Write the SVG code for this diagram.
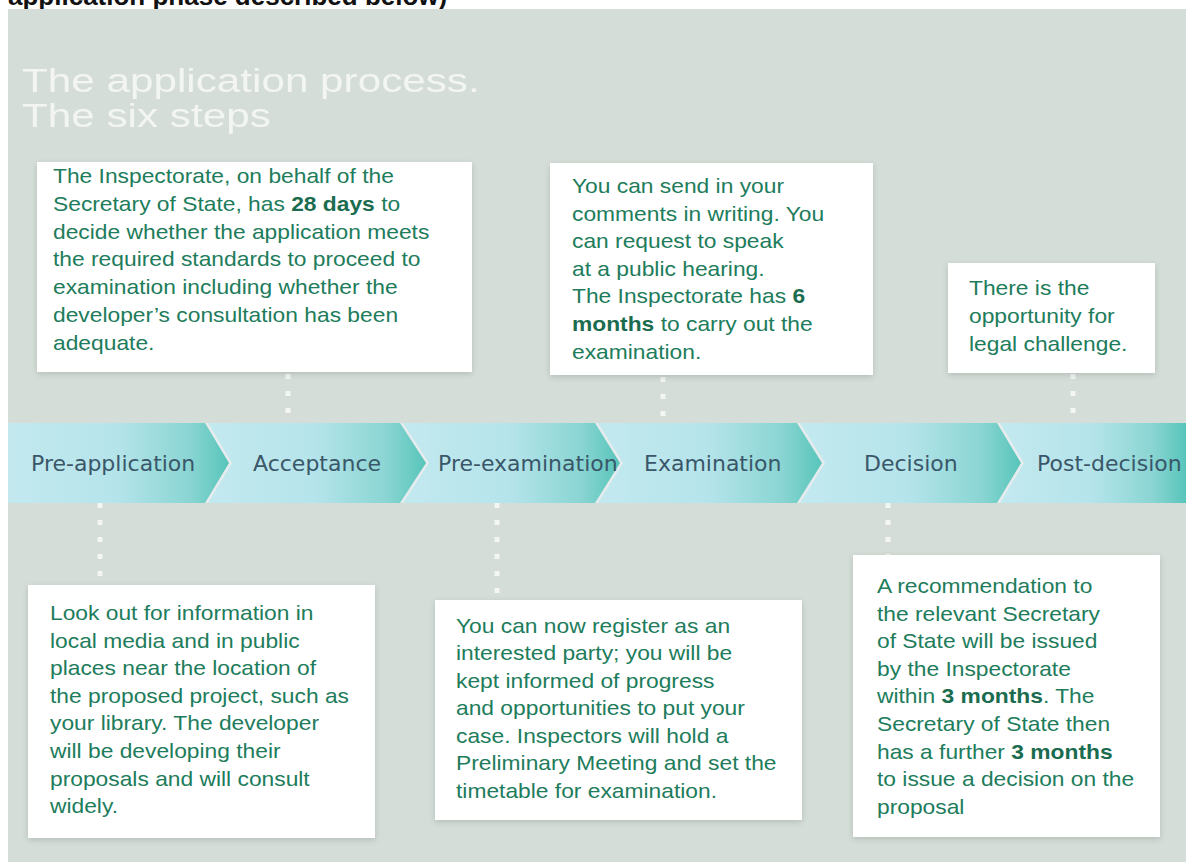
<svg xmlns="http://www.w3.org/2000/svg" width="1186" height="862" viewBox="0 0 1186 862">
<style>
.bg{fill:#d4ddd7}
.box{fill:#ffffff;filter:url(#sh)}
.body{font-family:"Liberation Sans",Arial,sans-serif;font-size:20px;fill:#207c5b}
.body tspan.b{font-weight:bold;fill:#1b6c4f}
.title{font-family:"Liberation Sans",Arial,sans-serif;font-size:33px;fill:#f6f8f6;opacity:0.92}
.lbl{font-family:"DejaVu Sans",Verdana,sans-serif;font-size:22px;fill:#3a5769}
.chev{fill:url(#cg)}
.dots{stroke:#f6f8f6;stroke-width:5;stroke-dasharray:5 12;fill:none;opacity:0.9}
.top{font-family:"Liberation Sans",Arial,sans-serif;font-size:26px;font-weight:bold;fill:#111111}
</style>
<defs>
<linearGradient id="cg" x1="0" y1="0" x2="1" y2="0">
<stop offset="0" stop-color="#c3e9ef"/>
<stop offset="0.5" stop-color="#b4e4ea"/>
<stop offset="0.82" stop-color="#8ad5d3"/>
<stop offset="1" stop-color="#58c5ba"/>
</linearGradient>
<filter id="sh" x="-5%" y="-5%" width="110%" height="115%">
<feGaussianBlur in="SourceAlpha" stdDeviation="3"/>
<feOffset dx="0" dy="2"/>
<feComponentTransfer><feFuncA type="linear" slope="0.15"/></feComponentTransfer>
<feMerge><feMergeNode/><feMergeNode in="SourceGraphic"/></feMerge>
</filter>
</defs>
<rect x="0" y="0" width="1186" height="862" fill="#ffffff"/>
<text class="top" x="8" y="5">application phase described below)</text>
<rect class="bg" x="8" y="9" width="1178" height="853"/>
<g id="title">
<text class="title" transform="translate(22 92) scale(1.28 1)">The application process.</text>
<text class="title" transform="translate(22 127) scale(1.28 1)">The six steps</text>
</g>
<g id="band">
<rect x="8" y="423" width="1178" height="80" fill="#e6ecee"/>
<g id="step-pre-application">
<polygon class="chev" points="8,423 205,423 229,463 205,503 8,503"/>
<text class="lbl" x="31" y="471">Pre-application</text>
</g>
<g id="step-acceptance">
<polygon class="chev" points="208,423 400,423 426,463 400,503 208,503 232,463"/>
<text class="lbl" x="253" y="471">Acceptance</text>
</g>
<g id="step-pre-examination">
<polygon class="chev" points="403,423 595,423 620,463 595,503 403,503 429,463"/>
<text class="lbl" x="438" y="471">Pre-examination</text>
</g>
<g id="step-examination">
<polygon class="chev" points="598,423 797,423 822,463 797,503 598,503 623,463"/>
<text class="lbl" x="644" y="471">Examination</text>
</g>
<g id="step-decision">
<polygon class="chev" points="800,423 997,423 1021,463 997,503 800,503 825,463"/>
<text class="lbl" x="864" y="471">Decision</text>
</g>
<g id="step-post-decision">
<polygon class="chev" points="1000,423 1186,423 1186,503 1000,503 1024,463"/>
<text class="lbl" x="1037" y="471">Post-decision</text>
</g>
</g>
<g id="connectors">
<line class="dots" x1="288" y1="374" x2="288" y2="423"/>
<line class="dots" x1="663" y1="377" x2="663" y2="423"/>
<line class="dots" x1="1073" y1="374" x2="1073" y2="423"/>
<line class="dots" x1="100" y1="503" x2="100" y2="585"/>
<line class="dots" x1="497" y1="503" x2="497" y2="600"/>
<line class="dots" x1="888" y1="503" x2="888" y2="555"/>
</g>
<g id="note-acceptance">
<rect class="box" x="37" y="162" width="435" height="210"/>
<g transform="translate(53 183) scale(1.14 1)">
<text class="body">
<tspan x="0" y="0">The Inspectorate, on behalf of the</tspan>
<tspan x="0" y="27.8">Secretary of State, has <tspan class="b">28 days</tspan> to</tspan>
<tspan x="0" y="55.6">decide whether the application meets</tspan>
<tspan x="0" y="83.4">the required standards to proceed to</tspan>
<tspan x="0" y="111.2">examination including whether the</tspan>
<tspan x="0" y="139">developer’s consultation has been</tspan>
<tspan x="0" y="166.8">adequate.</tspan>
</text>
</g>
</g>
<g id="note-examination">
<rect class="box" x="550" y="163" width="323" height="212"/>
<g transform="translate(572 193) scale(1.14 1)">
<text class="body">
<tspan x="0" y="0">You can send in your</tspan>
<tspan x="0" y="27.6">comments in writing. You</tspan>
<tspan x="0" y="55.2">can request to speak</tspan>
<tspan x="0" y="82.8">at a public hearing.</tspan>
<tspan x="0" y="110.4">The Inspectorate has <tspan class="b">6</tspan></tspan>
<tspan x="0" y="138"><tspan class="b">months</tspan> to carry out the</tspan>
<tspan x="0" y="165.6">examination.</tspan>
</text>
</g>
</g>
<g id="note-post-decision">
<rect class="box" x="948" y="263" width="207" height="110"/>
<g transform="translate(969 295) scale(1.14 1)">
<text class="body">
<tspan x="0" y="0">There is the</tspan>
<tspan x="0" y="28">opportunity for</tspan>
<tspan x="0" y="56">legal challenge.</tspan>
</text>
</g>
</g>
<g id="note-pre-application">
<rect class="box" x="28" y="585" width="347" height="253"/>
<g transform="translate(50 620) scale(1.14 1)">
<text class="body">
<tspan x="0" y="0">Look out for information in</tspan>
<tspan x="0" y="27.6">local media and in public</tspan>
<tspan x="0" y="55.2">places near the location of</tspan>
<tspan x="0" y="82.8">the proposed project, such as</tspan>
<tspan x="0" y="110.4">your library. The developer</tspan>
<tspan x="0" y="138">will be developing their</tspan>
<tspan x="0" y="165.6">proposals and will consult</tspan>
<tspan x="0" y="193.2">widely.</tspan>
</text>
</g>
</g>
<g id="note-pre-examination">
<rect class="box" x="435" y="600" width="367" height="220"/>
<g transform="translate(456 633) scale(1.14 1)">
<text class="body">
<tspan x="0" y="0">You can now register as an</tspan>
<tspan x="0" y="27.5">interested party; you will be</tspan>
<tspan x="0" y="55">kept informed of progress</tspan>
<tspan x="0" y="82.5">and opportunities to put your</tspan>
<tspan x="0" y="110">case. Inspectors will hold a</tspan>
<tspan x="0" y="137.5">Preliminary Meeting and set the</tspan>
<tspan x="0" y="165">timetable for examination.</tspan>
</text>
</g>
</g>
<g id="note-decision">
<rect class="box" x="853" y="555" width="307" height="282"/>
<g transform="translate(877 593) scale(1.14 1)">
<text class="body">
<tspan x="0" y="0">A recommendation to</tspan>
<tspan x="0" y="27.6">the relevant Secretary</tspan>
<tspan x="0" y="55.2">of State will be issued</tspan>
<tspan x="0" y="82.8">by the Inspectorate</tspan>
<tspan x="0" y="110.4">within <tspan class="b">3 months</tspan>. The</tspan>
<tspan x="0" y="138">Secretary of State then</tspan>
<tspan x="0" y="165.6">has a further <tspan class="b">3 months</tspan></tspan>
<tspan x="0" y="193.2">to issue a decision on the</tspan>
<tspan x="0" y="220.8">proposal</tspan>
</text>
</g>
</g>
</svg>
